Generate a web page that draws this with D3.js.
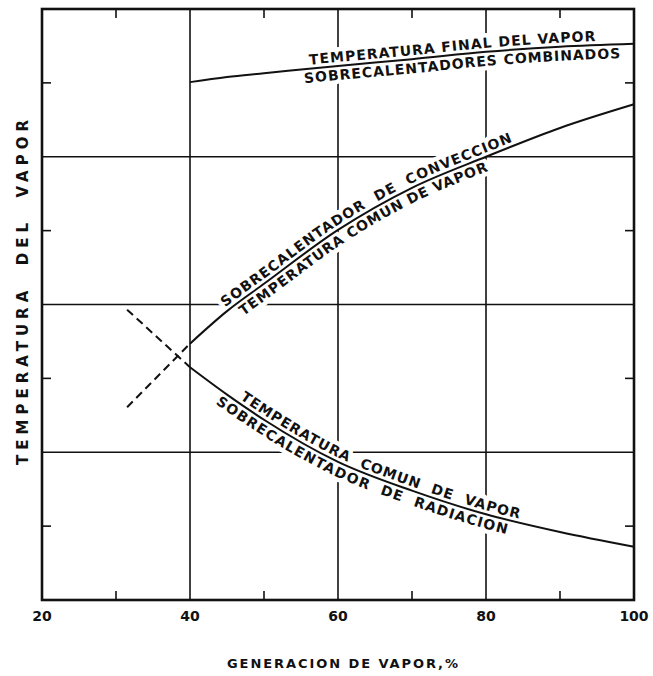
<!DOCTYPE html>
<html>
<head>
<meta charset="utf-8">
<script src="https://cdn.jsdelivr.net/npm/d3@7"></script>
<style>
  body { margin: 0; background: #fff; }
  text { font-family: 'DejaVu Sans', sans-serif; font-weight: bold; fill: #111; }
</style>
</head>
<body>
<script>
// axis ticks
const xTicks = [20, 40, 60, 80, 100];
const xMinorTicks = [30, 50, 70, 90];
const xGrid = [40, 60, 80];
const yGrid = [2, 4, 6];
const yMinorTicks = [1, 3, 5, 7];

// generacion de vapor (%)
const genPct = [40, 45, 50, 60, 70, 80, 90, 100];
// temperatura (relative units, no scale in original)
const finalTemp = [7.01, 7.08, 7.13, 7.23, 7.32, 7.42, 7.49, 7.53];
const convTemp = [3.47, 3.91, 4.28, 5.01, 5.58, 6.00, 6.39, 6.71];
const radTemp = [3.15, 2.78, 2.44, 1.87, 1.48, 1.16, 0.92, 0.72];

// dashed extrapolation below 40%
const extrapPct = [31.5, 40];
const convExtrap = [2.61, 3.47];
const radExtrap = [3.93, 3.15];

// labels along the curves: [text, curve id, start at %, above/below]
const curveLabels = [
    ['TEMPERATURA FINAL DEL VAPOR', 'final', 56.2, 'above'],
    ['SOBRECALENTADORES COMBINADOS', 'final', 55.3, 'below'],
    ['SOBRECALENTADOR  DE  CONVECCION', 'conv', 45.1, 'above'],
    ['TEMPERATURA COMUN DE VAPOR', 'conv', 46.1, 'below'],
    ['TEMPERATURA  COMUN  DE  VAPOR', 'rad', 46.4, 'above'],
    ['SOBRECALENTADOR  DE  RADIACION', 'rad', 44.5, 'below']
];

const xTitle = 'GENERACION DE VAPOR,%';
const yTitle = 'TEMPERATURA  DEL  VAPOR';

//dimensions
const W = 653, H = 676;
const margin = { top: 9, right: 19, bottom: 76, left: 42 };

const svg = d3.select('body')
    .append('svg')
    .attr('width', W)
    .attr('height', H);

const xScale = d3.scaleLinear()
    .domain([20, 100])
    .range([margin.left, W - margin.right]);

const yScale = d3.scaleLinear()
    .domain([0, 8])
    .range([H - margin.bottom, margin.top]);

const x0 = xScale(20), x1 = xScale(100);
const y0 = yScale(0), y1 = yScale(8);

//grid lines
svg.selectAll('.vgrid')
    .data(xGrid)
    .join('line')
    .attr('class', 'vgrid')
    .attr('x1', d => xScale(d)).attr('x2', d => xScale(d))
    .attr('y1', y0).attr('y2', y1)
    .attr('stroke', '#111')
    .attr('stroke-width', 1.6);

svg.selectAll('.hgrid')
    .data(yGrid)
    .join('line')
    .attr('class', 'hgrid')
    .attr('y1', d => yScale(d)).attr('y2', d => yScale(d))
    .attr('x1', x0).attr('x2', x1)
    .attr('stroke', '#111')
    .attr('stroke-width', 1.6);

//minor ticks on all four sides, pointing inward
const tickLen = 9;
const tickG = svg.append('g').attr('stroke', '#111').attr('stroke-width', 1.6);
xMinorTicks.forEach(v => {
    tickG.append('line').attr('x1', xScale(v)).attr('x2', xScale(v)).attr('y1', y0).attr('y2', y0 - tickLen);
    tickG.append('line').attr('x1', xScale(v)).attr('x2', xScale(v)).attr('y1', y1).attr('y2', y1 + tickLen);
});
yMinorTicks.forEach(v => {
    tickG.append('line').attr('y1', yScale(v)).attr('y2', yScale(v)).attr('x1', x0).attr('x2', x0 + tickLen);
    tickG.append('line').attr('y1', yScale(v)).attr('y2', yScale(v)).attr('x1', x1).attr('x2', x1 - tickLen);
});

//curve generator
const line = d3.line()
    .x(d => xScale(d[0]))
    .y(d => yScale(d[1]))
    .curve(d3.curveMonotoneX);

const curves = {
    final: genPct.map((p, i) => [p, finalTemp[i]]),
    conv: genPct.map((p, i) => [p, convTemp[i]]),
    rad: genPct.map((p, i) => [p, radTemp[i]])
};

//hidden paths for the labels to run along
const defs = svg.append('defs');
Object.keys(curves).forEach(k => {
    defs.append('path')
        .attr('id', 'path-' + k)
        .attr('d', line(curves[k]));
});

//find distance along a path where it reaches a given pixel x
function offsetAt(node, xPix) {
    let lo = 0, hi = node.getTotalLength();
    for (let i = 0; i < 30; i++) {
        const mid = (lo + hi) / 2;
        if (node.getPointAtLength(mid).x < xPix) lo = mid; else hi = mid;
    }
    return lo;
}

//curve labels: white halo layer first (breaks the grid), then the letters
const haloG = svg.append('g');
const labelG = svg.append('g');
curveLabels.forEach(([txt, key, start, side]) => {
    const node = document.getElementById('path-' + key);
    const off = offsetAt(node, xScale(start));
    [haloG, labelG].forEach((g, layer) => {
        const t = g.append('text')
            .attr('class', 'curve-label')
            .attr('font-size', 14)
            .attr('letter-spacing', 1)
            .attr('dy', side === 'above' ? -4 : 14)
            .style('white-space', 'pre');
        if (layer === 0) {
            t.attr('stroke', '#fff')
                .attr('stroke-width', 9)
                .attr('stroke-linejoin', 'round')
                .attr('fill', '#fff');
        }
        t.append('textPath')
            .attr('href', '#path-' + key)
            .attr('startOffset', off)
            .text(txt);
    });
});

//curves
svg.selectAll('.curve')
    .data(Object.values(curves))
    .join('path')
    .attr('class', 'curve')
    .attr('d', d => line(d))
    .attr('fill', 'none')
    .attr('stroke', '#111')
    .attr('stroke-width', 2);

//dashed extrapolations
svg.selectAll('.extrap')
    .data([convExtrap, radExtrap])
    .join('path')
    .attr('class', 'extrap')
    .attr('d', d => d3.line().x((v, i) => xScale(extrapPct[i])).y(v => yScale(v))(d))
    .attr('fill', 'none')
    .attr('stroke', '#111')
    .attr('stroke-width', 2)
    .attr('stroke-dasharray', '8,5');

//frame
svg.append('rect')
    .attr('x', x0).attr('y', y1)
    .attr('width', x1 - x0).attr('height', y0 - y1)
    .attr('fill', 'none')
    .attr('stroke', '#111')
    .attr('stroke-width', 2.6);

//x tick labels
svg.selectAll('.x-label')
    .data(xTicks)
    .join('text')
    .attr('class', 'x-label')
    .attr('x', d => xScale(d))
    .attr('y', y0 + 21)
    .attr('text-anchor', 'middle')
    .attr('font-size', 14)
    .text(d => d);

//axis titles
svg.append('text')
    .attr('x', 227)
    .attr('y', 668)
    .attr('font-size', 13)
    .attr('textLength', 231)
    .attr('lengthAdjust', 'spacing')
    .text(xTitle);

svg.append('text')
    .attr('transform', 'translate(28, 465) rotate(-90)')
    .attr('font-size', 15)
    .attr('textLength', 345)
    .attr('lengthAdjust', 'spacing')
    .style('white-space', 'pre')
    .text(yTitle);
</script>
</body>
</html>
